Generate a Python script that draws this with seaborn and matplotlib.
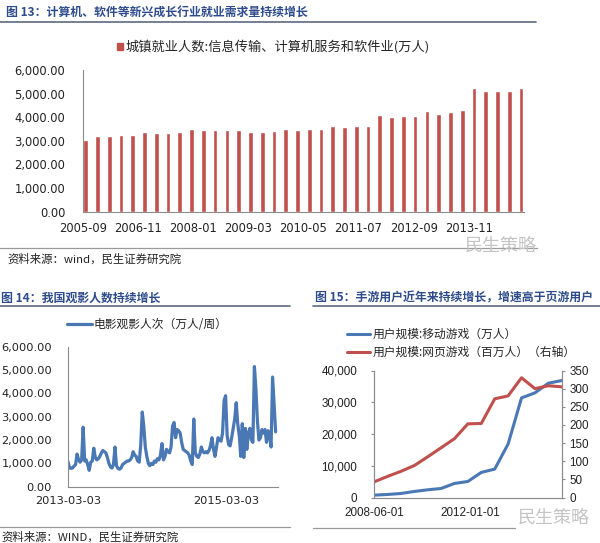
import numpy as np
import pandas as pd
import matplotlib
matplotlib.use("Agg")
import matplotlib.pyplot as plt
import matplotlib.dates as mdates
from matplotlib.lines import Line2D
from matplotlib.patches import Patch
from matplotlib.ticker import FuncFormatter
import seaborn as sns

# --- 图13: 城镇就业人数 (信息传输、计算机服务和软件业, 万人)
emp_values = [3035, 3218, 3192, 3235, 3235, 3362, 3319, 3332, 3362, 3489,
              3446, 3446, 3446, 3446, 3362, 3362, 3404, 3501, 3472, 3501,
              3501, 3641, 3586, 3614, 3641, 4094, 4022, 4064, 4064, 4263,
              4149, 4234, 4318, 5250, 5097, 5123, 5097, 5250]
emp_tick_labels = ["2005-09", "2006-11", "2008-01", "2009-03", "2010-05",
                   "2011-07", "2012-09", "2013-11", ""]
emp_label = "城镇就业人数:信息传输、计算机服务和软件业(万人)"

# --- 图14: 电影观影人次 (万人/周), weekly from 2013-03-03
movie_start = "2013-03-03"
movie_values = [1070, 800, 790, 800, 880, 950, 1400, 1150, 1050, 1150,
                2550, 1100, 1150, 950, 700, 1050, 1100, 1650, 1250, 1150,
                1200, 1300, 1450, 1550, 1500, 1450, 1250, 1000, 850, 800,
                950, 1700, 900, 780, 750, 800, 950, 1000, 1050, 1100,
                1100, 1150, 1250, 1500, 1350, 1300, 1100, 1050, 1800, 3200,
                2600, 1700, 1300, 1000, 900, 1000, 950, 1100, 1050, 1200,
                1150, 1350, 1850, 1150, 1300, 1600, 1500, 1450, 1700, 2600,
                2750, 2100, 2450, 2400, 2300, 1900, 1600, 1550, 1500, 1450,
                1350, 1100, 950, 2900, 1450, 1300, 1250, 1400, 1700, 1500,
                1450, 1500, 1450, 1550, 1750, 2100, 1600, 1300, 1700, 2100,
                2000, 1950, 2300, 3700, 3900, 2200, 1800, 1750, 2100, 2500,
                2900, 3600, 2700, 2200, 1300, 2700, 1250, 2500, 1600, 2300,
                2500, 2000, 1900, 5150, 4200, 2800, 2000, 2100, 2450, 2300,
                2450, 1900, 2400, 2200, 1700, 4700, 3500, 2350]
movie_label = "电影观影人次（万人/周）"
movie_ticks = ["2013-03-03", "2015-03-03"]

# --- 图15: 手游 / 页游用户规模 (semiannual)
game_dates = ["2008-06-01", "2008-12-01", "2009-06-01", "2009-12-01",
              "2010-06-01", "2010-12-01", "2011-06-01", "2011-12-01",
              "2012-06-01", "2012-12-01", "2013-06-01", "2013-12-01",
              "2014-06-01", "2014-12-01", "2015-06-01"]
mobile_users = [740, 950, 1260, 1900, 2420, 2840, 4420, 5050, 7900, 8950,
                16840, 31370, 32950, 36000, 36840]
web_users = [43, 58, 72, 88, 112, 137, 162, 203, 204, 272, 280, 330, 300,
             308, 305]
mobile_label = "用户规模:移动游戏（万人）"
web_label = "用户规模:网页游戏（百万人）（右轴）"
game_ticks = ["2008-06-01", "2012-01-01"]

RED = "#C0504D"
BLUE = "#4A78B5"
TITLE_BLUE = "#2E4C8C"
AXIS_GREY = "#8C8C8C"
CJK = ["Noto Sans CJK SC", "DejaVu Sans"]

sns.set_style("white")
plt.rcParams["font.family"] = ["DejaVu Sans", "Noto Sans CJK SC"]

W, H = 600, 543
fig = plt.figure(figsize=(6, 5.43), dpi=100)


def fx(px):
    return px / W


def fy(py):
    return 1 - py / H


def hline(y, x0, x1, color="#7F8A99", lw=1.0):
    fig.add_artist(Line2D([fx(x0), fx(x1)], [fy(y), fy(y)],
                          transform=fig.transFigure, color=color, lw=lw))


def style_axes(ax, sides=("left", "bottom")):
    for s in ["left", "right", "top", "bottom"]:
        ax.spines[s].set_visible(s in sides)
        ax.spines[s].set_color(AXIS_GREY)
        ax.spines[s].set_linewidth(0.8)
    ax.tick_params(which="both", direction="out", length=2.5, width=0.8,
                   color=AXIS_GREY, labelcolor="#222222")
    ax.set_xlabel("")
    ax.set_ylabel("")


fmt2 = FuncFormatter(lambda v, p: f"{v:,.2f}")

# ---------------- 图13 bars ----------------
ax1 = fig.add_axes([fx(82.7), fy(211.7), fx(524) - fx(82.7), (211.7 - 70) / H])
emp_df = pd.DataFrame({"idx": range(len(emp_values)), "value": emp_values})
sns.barplot(data=emp_df, x="idx", y="value", color=RED, saturation=1,
            width=0.4, ax=ax1)
style_axes(ax1)
ax1.set_ylim(0, 6000)
ax1.set_yticks(np.arange(0, 6001, 1000))
ax1.yaxis.set_major_formatter(fmt2)
ax1.set_xlim(-0.25, 37.25)
ax1.set_xticks(np.linspace(-0.25, 37.25, 9))
ax1.set_xticklabels(emp_tick_labels)
ax1.tick_params(axis="y", labelsize=8.3, pad=10)
ax1.tick_params(axis="x", labelsize=8.3, pad=5)
ax1.legend(handles=[Patch(color=RED)], labels=[emp_label], loc="center",
           bbox_to_anchor=(fx(273), fy(47)), bbox_transform=fig.transFigure,
           frameon=False, handlelength=0.45, handleheight=0.45,
           handletextpad=0.2, borderpad=0, prop={"family": CJK, "size": 9.5})

# ---------------- 图14 line ----------------
axm = fig.add_axes([fx(68), fy(486.7), fx(278) - fx(68), (486.7 - 346.7) / H])
movie_dates = pd.date_range(movie_start, periods=len(movie_values), freq="7D")
movie_df = pd.DataFrame({"date": movie_dates, "value": movie_values})
sns.lineplot(data=movie_df, x="date", y="value", color=BLUE, linewidth=2.3,
             label=movie_label, ax=axm)
style_axes(axm)
axm.set_ylim(0, 6000)
axm.set_yticks(np.arange(0, 6001, 1000))
axm.yaxis.set_major_formatter(fmt2)
axm.set_xlim(pd.Timestamp("2013-03-03"), pd.Timestamp("2015-10-29"))
axm.set_xticks(pd.to_datetime(movie_ticks))
axm.xaxis.set_major_formatter(mdates.DateFormatter("%Y-%m-%d"))
axm.tick_params(axis="y", labelsize=8.2, pad=9)
axm.tick_params(axis="x", labelsize=8.2, pad=4)
axm.legend(loc="center left", bbox_to_anchor=(fx(61), fy(325)),
           bbox_transform=fig.transFigure, frameon=False, handlelength=2.1,
           handletextpad=0.15, borderpad=0, prop={"family": CJK, "size": 8.5})

# ---------------- 图15 twin lines ----------------
axg = fig.add_axes([fx(374), fy(497.5), fx(561.7) - fx(374), (497.5 - 370.5) / H])
game_df = pd.DataFrame({"date": pd.to_datetime(game_dates),
                        "mobile": mobile_users, "web": web_users})
sns.lineplot(data=game_df, x="date", y="mobile", color=BLUE, linewidth=2.2,
             label=mobile_label, ax=axg)
axr = axg.twinx()
sns.lineplot(data=game_df, x="date", y="web", color=RED, linewidth=2.2,
             label=web_label, ax=axr)
for a in (axg, axr):
    if a.get_legend() is not None:
        a.get_legend().remove()
style_axes(axg, sides=("left", "bottom", "right"))
style_axes(axr, sides=("left", "bottom", "right"))
axg.set_ylim(0, 40000)
axg.set_yticks(np.arange(0, 40001, 10000))
axg.yaxis.set_major_formatter(FuncFormatter(lambda v, p: f"{v:,.0f}"))
axr.set_ylim(0, 350)
axr.set_yticks(np.arange(0, 351, 50))
axg.set_xlim(pd.Timestamp(game_dates[0]), pd.Timestamp(game_dates[-1]))
axg.set_xticks(pd.to_datetime(game_ticks))
axg.xaxis.set_major_formatter(mdates.DateFormatter("%Y-%m-%d"))
axg.tick_params(axis="y", labelsize=8.4, pad=9.5)
axg.tick_params(axis="x", labelsize=8.4, pad=4)
axr.tick_params(axis="y", labelsize=8.4, pad=3)
for t in axg.get_xticklabels() + axg.get_yticklabels() + axr.get_yticklabels():
    t.set_family(["Liberation Sans", "DejaVu Sans"])
hg, lg = axg.get_legend_handles_labels()
hr, lr = axr.get_legend_handles_labels()
axr.legend(hg + hr, lg + lr, loc="upper left", bbox_to_anchor=(fx(341), fy(322)),
           bbox_transform=fig.transFigure, frameon=False, handlelength=1.95,
           handletextpad=0.25, borderpad=0, labelspacing=0.45,
           prop={"family": CJK, "size": 8.5})

# ---------------- titles, rules, sources ----------------
title_kw = dict(color=TITLE_BLUE, fontsize=8.6, fontweight="bold", va="center",
                family=CJK)
fig.text(fx(6), fy(12), "图 13：计算机、软件等新兴成长行业就业需求量持续增长", **title_kw)
fig.text(fx(1), fy(298), "图 14：我国观影人数持续增长", **title_kw)
fig.text(fx(315), fy(298), "图 15：手游用户近年来持续增长，增速高于页游用户", **title_kw)

hline(21.5, 0, 536, color="#5C6B80", lw=1.2)
hline(305.5, 0, 290, color="#5C6B80", lw=1.2)
hline(305.5, 313, 600, color="#5C6B80", lw=1.2)
hline(247.5, 0, 537, color="#9A9A9A", lw=0.9)
hline(527, 0, 290, color="#9A9A9A", lw=0.9)
hline(528, 313, 515, color="#9A9A9A", lw=0.9)

src_kw = dict(color="#222222", fontsize=8.2, va="center", family=CJK)
fig.text(fx(7), fy(259), "资料来源：wind，民生证券研究院", **src_kw)
fig.text(fx(1), fy(537), "资料来源：WIND，民生证券研究院", **src_kw)

wm_kw = dict(color="#C4C4C4", fontsize=13, va="center", family=CJK)
fig.text(fx(465), fy(245.5), "民生策略", **wm_kw)
fig.text(fx(518), fy(518), "民生策略", **wm_kw)

fig.savefig("out.png", dpi=100)
